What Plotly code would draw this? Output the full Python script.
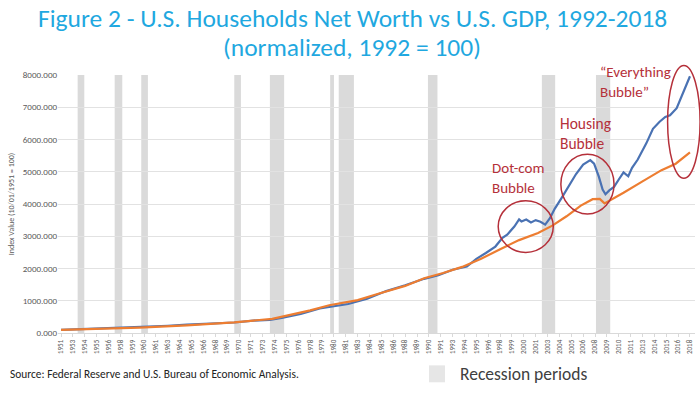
import plotly.graph_objects as go

# ---------------- data ----------------
nw_years = [1951.75, 1953, 1955, 1957, 1959, 1961, 1963, 1965, 1967, 1969, 1970, 1972,
            1973.75, 1975, 1977, 1979, 1980.5, 1982, 1984, 1986, 1988, 1990, 1991.5,
            1993, 1994.5, 1995.5, 1996.5, 1997.5, 1998.25, 1998.75, 1999.5, 2000.0,
            2000.25, 2000.75, 2001.25, 2001.75, 2002.25, 2002.75, 2003.25, 2003.75,
            2004.5, 2005.25, 2006.0, 2006.75, 2007.5, 2007.9, 2008.4, 2008.8, 2009.1,
            2009.5, 2010.0, 2010.5, 2011.0, 2011.5, 2011.9, 2012.5, 2013.4, 2014.1,
            2014.8, 2015.4, 2015.9, 2016.6, 2017.3, 2018.0]
net_worth = [100, 112, 135, 155, 180, 200, 225, 260, 285, 320, 325, 385,
             410, 470, 590, 760, 840, 900, 1060, 1300, 1480, 1680, 1790,
             1960, 2060, 2300, 2480, 2680, 2950, 3050, 3300, 3520,
             3460, 3520, 3430, 3500, 3450, 3360, 3560, 3850,
             4200, 4560, 4930, 5220, 5360, 5250, 4850, 4450, 4300,
             4420, 4530, 4760, 4980, 4860, 5120, 5380, 5880, 6330,
             6550, 6700, 6750, 6970, 7450, 7960]

gdp_years = [1951.75, 1955, 1960, 1965, 1970, 1974, 1976, 1978, 1980, 1981.5, 1983,
             1985, 1988, 1990, 1992, 1994, 1996, 1998, 2000, 2002, 2003.5, 2005,
             2006.5, 2007.75, 2008.5, 2009.0, 2009.5, 2011, 2013, 2015, 2016.5, 2018]
gdp = [100, 125, 165, 235, 330, 440, 560, 700, 860, 940, 1020,
       1200, 1460, 1700, 1860, 2050, 2300, 2600, 2880, 3100, 3330, 3620,
       3950, 4150, 4160, 4020, 4100, 4350, 4700, 5050, 5250, 5600]

recession_start = [1953.5, 1957.4, 1960.2, 1970.0, 1973.75, 1980.1, 1981.0, 1990.4, 2002.4, 2008.1]
recession_end = [1954.2, 1958.2, 1960.9, 1970.7, 1975.25, 1980.5, 1982.6, 1991.4, 2003.8, 2009.6]

x_labels = ["1951", "1953", "1954", "1955", "1956", "1958", "1959", "1960", "1961", "1963",
            "1964", "1965", "1966", "1968", "1969", "1970", "1971", "1973", "1974", "1975",
            "1976", "1978", "1979", "1980", "1981", "1983", "1984", "1985", "1986", "1988",
            "1989", "1990", "1991", "1993", "1994", "1995", "1996", "1998", "1999", "2000",
            "2001", "2003", "2004", "2005", "2006", "2008", "2009", "2010", "2011", "2013",
            "2014", "2015", "2016", "2018"]
y_ticks = [0, 1000, 2000, 3000, 4000, 5000, 6000, 7000, 8000]

# ---------------- figure ----------------
FONT = "Carlito, Lato, 'Open Sans', sans-serif"
RED = "#b5303a"

fig = go.Figure()
fig.add_trace(go.Scatter(x=nw_years, y=net_worth, mode="lines",
                         line=dict(color="#4a72b3", width=2.2), showlegend=False,
                         name="Net worth"))
fig.add_trace(go.Scatter(x=gdp_years, y=gdp, mode="lines",
                         line=dict(color="#ed7d31", width=2.2), showlegend=False,
                         name="GDP"))

for s, e in zip(recession_start, recession_end):
    fig.add_shape(type="rect", xref="x", yref="paper", x0=s, x1=e, y0=0, y1=1,
                  fillcolor="#dadada", line_width=0, layer="below")

tickvals = [1951.75 + 1.25 * i for i in range(len(x_labels))]

# bubble circles
fig.add_shape(type="circle", xref="x", yref="y", x0=1997.8, x1=2003.6, y0=2500, y1=4100,
              line=dict(color=RED, width=1.5))
fig.add_shape(type="circle", xref="x", yref="y", x0=2004.4, x1=2010.0, y0=3690, y1=5540,
              line=dict(color=RED, width=1.5))
fig.add_shape(type="circle", xref="paper", yref="paper", x0=0.957, x1=1.008, y0=0.60, y1=1.037,
              line=dict(color=RED, width=1.5))

fig.add_annotation(x=1996.9, y=4800, xref="x", yref="y", text="Dot-com<br>Bubble",
                   showarrow=False, xanchor="left", yanchor="middle", align="left",
                   font=dict(family=FONT, size=15, color=RED))
fig.add_annotation(x=2004.1, y=6200, xref="x", yref="y", text="Housing<br>Bubble",
                   showarrow=False, xanchor="left", yanchor="middle", align="left",
                   font=dict(family=FONT, size=15.5, color=RED))
fig.add_annotation(x=2008.3, y=7770, xref="x", yref="y", text="\u201cEverything<br>Bubble\u201d",
                   showarrow=False, xanchor="left", yanchor="middle", align="left",
                   font=dict(family=FONT, size=15, color=RED))

# title (two centred lines)
fig.add_annotation(x=0.4623, y=1.218, xref="paper", yref="paper",
                   text="Figure 2 - U.S. Households Net Worth vs U.S. GDP, 1992-2018",
                   showarrow=False, xanchor="center", yanchor="middle",
                   font=dict(family=FONT, size=25.5, color="#1fa8e0"))
fig.add_annotation(x=0.4623, y=1.108, xref="paper", yref="paper",
                   text="(normalized, 1992 = 100)",
                   showarrow=False, xanchor="center", yanchor="middle",
                   font=dict(family=FONT, size=25.5, color="#1fa8e0"))

# source & legend
fig.add_annotation(x=-0.0785, y=-0.160, xref="paper", yref="paper",
                   text="Source: Federal Reserve and U.S. Bureau of Economic Analysis.",
                   showarrow=False, xanchor="left", yanchor="middle",
                   font=dict(family=FONT, size=11.4, color="#222222"))
fig.add_shape(type="rect", xref="paper", yref="paper", x0=0.5824, x1=0.6075, y0=-0.191, y1=-0.1255,
              fillcolor="#e6e6e6", line_width=0)
fig.add_annotation(x=0.628, y=-0.160, xref="paper", yref="paper", text="Recession periods",
                   showarrow=False, xanchor="left", yanchor="middle",
                   font=dict(family=FONT, size=17.5, color="#404040"))

fig.update_layout(
    width=700, height=394,
    margin=dict(l=58, r=5, t=74.5, b=60.5, autoexpand=False),
    paper_bgcolor="white", plot_bgcolor="white",
    showlegend=False,
    xaxis=dict(range=[1951.43, 2018.53], tickmode="array", tickvals=tickvals, ticktext=x_labels,
               tickangle=-90, tickfont=dict(family=FONT, size=7, color="#595959"),
               showgrid=False, zeroline=False, showline=True, linecolor="#d9d9d9",
               ticks="outside", ticklen=3, tickcolor="#d9d9d9", automargin=False),
    yaxis=dict(range=[0, 8000], tickmode="array", tickvals=y_ticks,
               ticktext=[f"{v}.000" for v in y_ticks],
               tickfont=dict(family=FONT, size=9, color="#595959"),
               showgrid=True, gridcolor="#e2e2e2", gridwidth=1, zeroline=False,
               automargin=False,
               title=dict(text="Index Value (10/01/1951 = 100)",
                          font=dict(family=FONT, size=8, color="#595959"), standoff=6)),
)

fig.write_html("out.html", config={"displayModeBar": False},
               post_script="document.body.style.margin='0px';")
